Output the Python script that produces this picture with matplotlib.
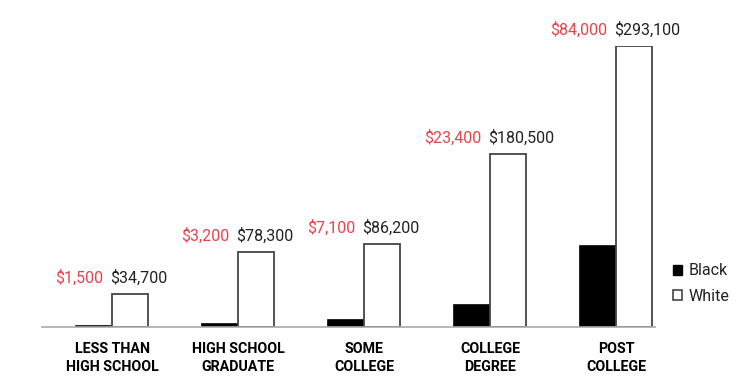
import numpy as np
import matplotlib.pyplot as plt
from matplotlib.patches import Patch

categories = ["LESS THAN\nHIGH SCHOOL", "HIGH SCHOOL\nGRADUATE", "SOME\nCOLLEGE",
              "COLLEGE\nDEGREE", "POST\nCOLLEGE"]
black_vals = [1500, 3200, 7100, 23400, 84000]
white_vals = [34700, 78300, 86200, 180500, 293100]
black_labels = ["$1,500", "$3,200", "$7,100", "$23,400", "$84,000"]
white_labels = ["$34,700", "$78,300", "$86,200", "$180,500", "$293,100"]

plt.rcParams['font.family'] = ['Roboto', 'DejaVu Sans']

fig = plt.figure(figsize=(7.53, 3.86), dpi=100)
ax = fig.add_axes([0.0558, 0.1528, 0.8142, 0.7280])

x = np.arange(len(categories))
w = 0.286
red = '#e8434c'
edge = '#444444'

ax.bar(x - w / 2, black_vals, w, color='black', edgecolor='black', linewidth=1.2)
ax.bar(x + w / 2, white_vals, w, color='white', edgecolor=edge, linewidth=1.3)

for i in range(len(categories)):
    top = white_vals[i]
    ax.annotate(black_labels[i], (x[i], top), xytext=(-6.5, 6), textcoords='offset points',
                ha='right', va='bottom', color=red, fontsize=11.5, annotation_clip=False)
    ax.annotate(white_labels[i], (x[i], top), xytext=(-1.5, 6), textcoords='offset points',
                ha='left', va='bottom', color='#222222', fontsize=11.5, annotation_clip=False)

ax.set_xlim(-0.556, 4.31)
ax.set_ylim(0, 293100)
ax.set_xticks(x)
ax.set_xticklabels(categories, fontsize=10.3, fontweight='bold', linespacing=1.3)
ax.tick_params(axis='x', length=0, pad=11)
ax.set_yticks([])
for s in ['top', 'right', 'left']:
    ax.spines[s].set_visible(False)
ax.spines['bottom'].set_color('#aaaaaa')
ax.spines['bottom'].set_linewidth(1.2)

handles = [Patch(facecolor='black', edgecolor='black', label='Black'),
           Patch(facecolor='white', edgecolor=edge, linewidth=1.2, label='White')]
ax.legend(handles=handles, loc='center left', bbox_to_anchor=(1.005, 0.155), frameon=False,
          handlelength=0.6, handleheight=0.6, handletextpad=0.4, labelspacing=0.65,
          fontsize=11.5, labelcolor='#222222')

fig.savefig('out.png', dpi=100)
